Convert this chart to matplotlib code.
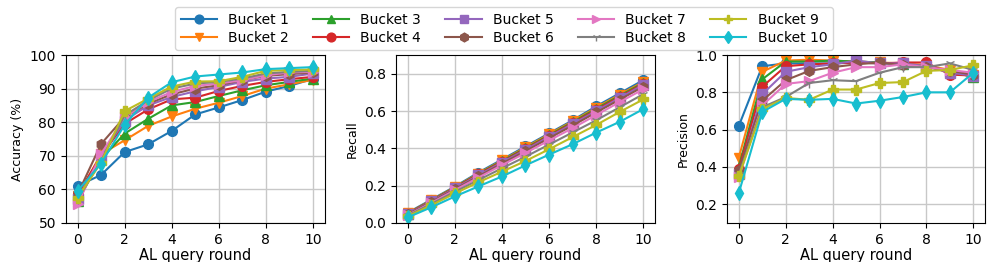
import matplotlib
matplotlib.use("Agg")
import matplotlib.pyplot as plt

rounds = [0, 1, 2, 3, 4, 5, 6, 7, 8, 9, 10]
buckets = ["Bucket 1", "Bucket 2", "Bucket 3", "Bucket 4", "Bucket 5",
           "Bucket 6", "Bucket 7", "Bucket 8", "Bucket 9", "Bucket 10"]
markers = ["o", "v", "^", "o", "s", "h", ">", "1", "P", "d"]

accuracy = [
    [61.0, 64.3, 71.1, 73.4, 77.4, 82.3, 84.4, 86.6, 89.1, 90.8, 92.9],
    [58.0, 70.5, 74.6, 78.9, 81.7, 84.0, 85.8, 87.8, 90.0, 91.3, 92.6],
    [56.5, 69.0, 76.6, 81.0, 85.0, 86.0, 87.8, 89.5, 91.0, 92.0, 93.0],
    [58.5, 70.0, 79.5, 83.8, 86.8, 87.3, 89.3, 90.8, 92.0, 92.8, 93.5],
    [57.0, 70.0, 80.5, 85.0, 87.5, 89.2, 90.5, 92.0, 93.0, 93.5, 94.5],
    [58.5, 73.5, 81.5, 85.5, 88.3, 90.0, 91.0, 92.5, 93.8, 94.3, 94.8],
    [55.5, 70.5, 81.5, 86.0, 89.0, 90.8, 91.5, 92.5, 94.0, 94.8, 95.0],
    [57.0, 68.5, 82.0, 86.5, 90.0, 91.5, 92.0, 93.0, 94.5, 95.0, 95.3],
    [57.5, 68.0, 83.3, 87.0, 90.6, 92.1, 92.2, 93.5, 95.3, 95.5, 95.7],
    [59.5, 67.7, 79.2, 87.3, 91.9, 93.6, 94.2, 94.8, 95.8, 96.1, 96.4],
]

recall = [
    [0.055, 0.125, 0.195, 0.270, 0.340, 0.410, 0.480, 0.550, 0.625, 0.695, 0.765],
    [0.052, 0.122, 0.192, 0.265, 0.335, 0.405, 0.475, 0.545, 0.618, 0.688, 0.756],
    [0.050, 0.120, 0.190, 0.262, 0.332, 0.400, 0.470, 0.540, 0.612, 0.682, 0.750],
    [0.050, 0.118, 0.188, 0.260, 0.328, 0.396, 0.466, 0.535, 0.606, 0.676, 0.745],
    [0.048, 0.116, 0.185, 0.256, 0.324, 0.392, 0.462, 0.530, 0.600, 0.670, 0.740],
    [0.046, 0.113, 0.181, 0.250, 0.318, 0.385, 0.454, 0.522, 0.592, 0.661, 0.730],
    [0.042, 0.108, 0.176, 0.243, 0.310, 0.375, 0.442, 0.508, 0.578, 0.648, 0.716],
    [0.040, 0.102, 0.167, 0.230, 0.293, 0.355, 0.420, 0.485, 0.550, 0.620, 0.690],
    [0.036, 0.095, 0.158, 0.218, 0.275, 0.332, 0.395, 0.460, 0.525, 0.595, 0.662],
    [0.030, 0.084, 0.142, 0.196, 0.249, 0.309, 0.366, 0.422, 0.484, 0.542, 0.610],
]

precision = [
    [0.62, 0.94, 0.955, 0.955, 0.955, 0.96, 0.955, 0.955, 0.94, 0.91, 0.89],
    [0.45, 0.91, 0.97, 0.975, 0.97, 0.965, 0.96, 0.955, 0.945, 0.92, 0.895],
    [0.40, 0.87, 0.965, 0.965, 0.97, 0.965, 0.96, 0.95, 0.94, 0.915, 0.88],
    [0.39, 0.83, 0.94, 0.95, 0.955, 0.96, 0.955, 0.96, 0.96, 0.895, 0.89],
    [0.365, 0.79, 0.91, 0.935, 0.95, 0.97, 0.955, 0.955, 0.94, 0.905, 0.89],
    [0.385, 0.755, 0.865, 0.915, 0.935, 0.95, 0.96, 0.945, 0.935, 0.915, 0.895],
    [0.345, 0.73, 0.845, 0.86, 0.905, 0.935, 0.935, 0.95, 0.935, 0.92, 0.905],
    [0.36, 0.72, 0.775, 0.85, 0.865, 0.86, 0.905, 0.935, 0.935, 0.955, 0.92],
    [0.35, 0.71, 0.77, 0.76, 0.815, 0.815, 0.85, 0.855, 0.915, 0.92, 0.945],
    [0.26, 0.695, 0.765, 0.76, 0.765, 0.74, 0.755, 0.775, 0.80, 0.80, 0.905],
]

fig = plt.figure(figsize=(9.96, 2.62), dpi=100)
ax1 = fig.add_axes([0.066, 0.149, 0.26, 0.641])
ax2 = fig.add_axes([0.3976, 0.149, 0.26, 0.641])
ax3 = fig.add_axes([0.730, 0.149, 0.259, 0.641])

panels = [(ax1, accuracy, "Accuracy (%)", (50, 100)),
          (ax2, recall, "Recall", (0, 0.9)),
          (ax3, precision, "Precision", (0.1, 1.0))]

for ax, data, label, lim in panels:
    for i, vals in enumerate(data):
        ax.plot(rounds, vals, marker=markers[i], color="C%d" % i,
                markersize=7, linewidth=1.5, label=buckets[i])
    ax.set_ylim(lim)
    ax.set_xlim(-0.5, 10.5)
    ax.set_xticks([0, 2, 4, 6, 8, 10])
    ax.grid(True, linewidth=1, color="#c8c8c8")
    ax.set_axisbelow(True)
    ax.set_ylabel(label, fontsize=9)
    ax.set_xlabel("AL query round", fontsize=10.5, labelpad=1)
    ax.tick_params(labelsize=10)

ax2.set_yticks([0.0, 0.2, 0.4, 0.6, 0.8])
ax3.set_yticks([0.2, 0.4, 0.6, 0.8, 1.0])

handles, labels = ax1.get_legend_handles_labels()
fig.legend(handles, labels, loc="upper center", bbox_to_anchor=(0.506, 1.0),
           ncol=5, fontsize=10, handlelength=2.6, columnspacing=1.75,
           borderpad=0.4, labelspacing=0.3, markerscale=0.9)

fig.savefig("out.png", dpi=100)
